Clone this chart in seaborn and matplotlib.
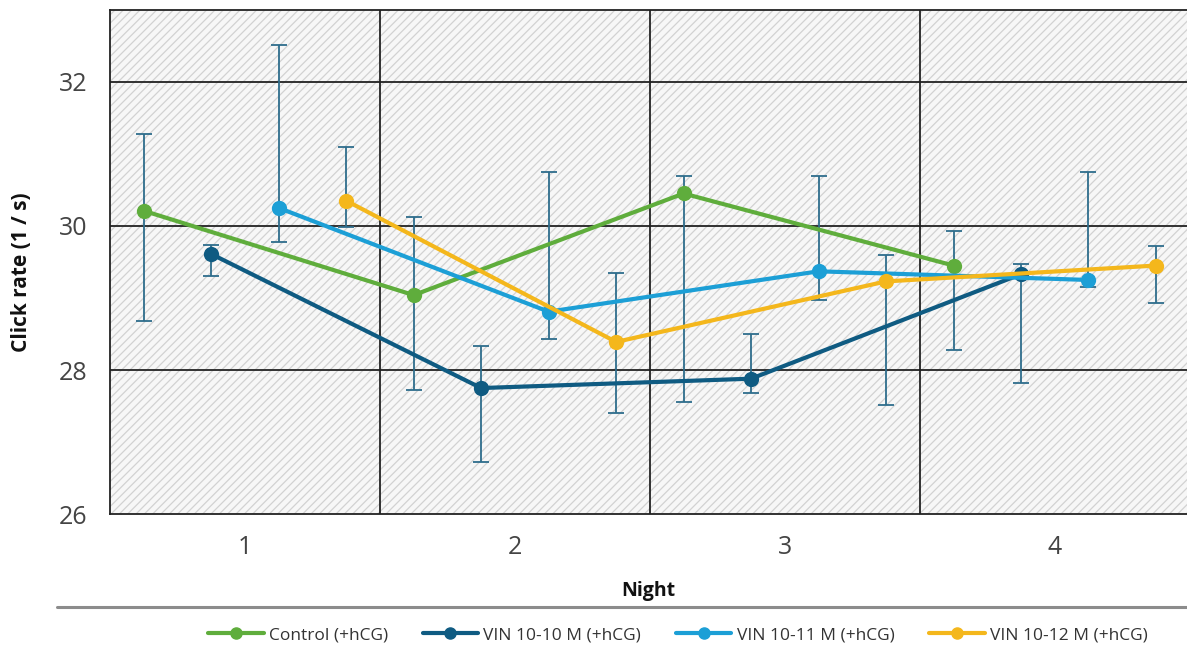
import numpy as np
import pandas as pd
import matplotlib.pyplot as plt
import seaborn as sns
from matplotlib.patches import Rectangle
from matplotlib.lines import Line2D
from matplotlib.ticker import FixedLocator

# data
nights = [1, 2, 3, 4]
groups = ['Control (+hCG)', 'VIN 10-10 M (+hCG)', 'VIN 10-11 M (+hCG)', 'VIN 10-12 M (+hCG)']

control = [30.21, 29.04, 30.45, 29.45]
control_lo = [28.68, 27.72, 27.55, 28.28]
control_hi = [31.28, 30.12, 30.69, 29.93]

vin10 = [29.61, 27.75, 27.88, 29.33]
vin10_lo = [29.31, 26.72, 27.68, 27.82]
vin10_hi = [29.74, 28.34, 28.50, 29.47]

vin11 = [30.25, 28.81, 29.37, 29.25]
vin11_lo = [29.77, 28.43, 28.97, 29.15]
vin11_hi = [32.51, 30.75, 30.69, 30.75]

vin12 = [30.35, 28.39, 29.23, 29.45]
vin12_lo = [29.98, 27.41, 27.51, 28.93]
vin12_hi = [31.10, 29.34, 29.59, 29.72]

means = [control, vin10, vin11, vin12]
lows = [control_lo, vin10_lo, vin11_lo, vin12_lo]
highs = [control_hi, vin10_hi, vin11_hi, vin12_hi]

colors = ['#5fad3c', '#0f5b82', '#1c9fd6', '#f4b71c']
offsets = [-0.375, -0.125, 0.125, 0.375]

rows = []
for g, m, lo, hi, off in zip(groups, means, lows, highs, offsets):
    for n, v, l, h in zip(nights, m, lo, hi):
        rows.append({'group': g, 'night': n, 'x': n + off, 'rate': v, 'lo': l, 'hi': h})
df = pd.DataFrame(rows)

sns.set_style('white')
plt.rcParams['font.family'] = ['Open Sans', 'DejaVu Sans']
plt.rcParams['hatch.linewidth'] = 0.9

fig = plt.figure(figsize=(11.87, 6.5), dpi=100)
ax = fig.add_axes([0.0927, 0.209, 0.9073, 0.776])

# hatched background
ax.add_patch(Rectangle((0, 0), 1, 1, transform=ax.transAxes, facecolor='#f7f7f7',
                       edgecolor='#d2d2d2', hatch='////', linewidth=0, zorder=0))

# error bars under the lines
for g in groups:
    d = df[df['group'] == g]
    ax.errorbar(d['x'], d['rate'], yerr=[d['rate'] - d['lo'], d['hi'] - d['rate']],
                fmt='none', ecolor='#2e6d8c', elinewidth=1.3, capsize=5.5, capthick=1.3, zorder=3)

for g, c in zip(groups, colors):
    sns.lineplot(data=df[df['group'] == g], x='x', y='rate', color=c, marker='o',
                 markersize=11, markeredgewidth=0, linewidth=3.0, label=g, ax=ax, zorder=4)

ax.set_xlim(0.5, 4.49)
ax.set_ylim(26, 33)
ax.set_yticks([26, 28, 30, 32])
ax.set_xticks(nights)
ax.xaxis.set_minor_locator(FixedLocator([0.5, 1.5, 2.5, 3.5]))
ax.tick_params(axis='x', which='major', length=0, pad=15, labelsize=18, labelcolor='#444444')
ax.tick_params(axis='x', which='minor', length=10, width=1.3, color='#222222', direction='out')
ax.tick_params(axis='y', length=0, pad=16, labelsize=18, labelcolor='#444444')

for y in [28, 30, 32]:
    ax.axhline(y, color='#222222', lw=1.3, zorder=1)
for x in [1.5, 2.5, 3.5]:
    ax.axvline(x, color='#222222', lw=1.3, zorder=1)

for s in ['left', 'top', 'bottom']:
    ax.spines[s].set_color('#222222')
    ax.spines[s].set_linewidth(1.3)
ax.spines['right'].set_visible(False)

ax.set_xlabel('Night', fontsize=14, fontweight='bold', color='#111111')
ax.set_ylabel('Click rate (1 / s)', fontsize=15, fontweight='bold', color='#111111')
ax.xaxis.set_label_coords(0.5, -0.133)
ax.yaxis.set_label_coords(-0.072, 0.48)

# separator line above legend
fig.add_artist(Line2D([0.048, 1.0], [0.066, 0.066], color='#8c8c8c', lw=2.2,
                      transform=fig.transFigure))

ax.legend_.remove()
handles = [Line2D([], [], color=c, lw=3.0, marker='o', markersize=8) for c in colors]
fig.legend(handles, groups, loc='center', bbox_to_anchor=(0.571, 0.023), ncol=4,
           frameon=False, fontsize=12.5, handlelength=3.2, handletextpad=0.3,
           columnspacing=2.0, labelcolor='#333333')

fig.savefig('out.png', dpi=100)
